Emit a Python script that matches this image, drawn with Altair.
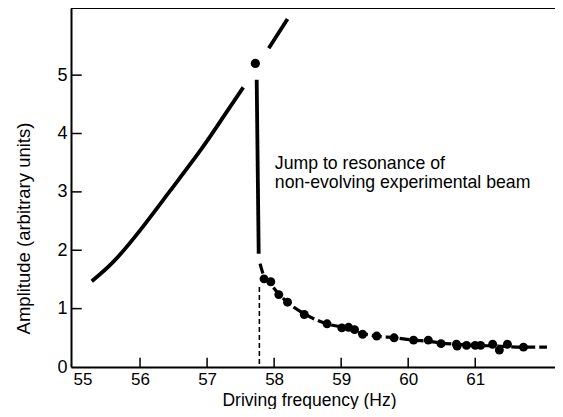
import altair as alt
import pandas as pd

# ---- data ----
lower_f = [55.28, 55.60, 56.00, 56.45, 56.90, 57.24, 57.54]
lower_A = [1.47, 1.80, 2.34, 3.02, 3.71, 4.28, 4.79]

upper_f = [57.92, 58.20]
upper_A = [5.46, 5.96]

jump_f = [57.74, 57.77]
jump_A = [4.92, 1.94]

peak_f = [57.72]
peak_A = [5.20]

dot_f = [57.85, 57.95, 58.07, 58.20, 58.45, 58.79, 59.01, 59.11, 59.20, 59.32,
         59.53, 59.79, 60.08, 60.30, 60.49, 60.72, 60.73, 60.87, 61.00, 61.08,
         61.26, 61.36, 61.48, 61.72]
dot_A = [1.51, 1.46, 1.24, 1.11, 0.90, 0.74, 0.67, 0.68, 0.64, 0.56,
         0.53, 0.50, 0.46, 0.46, 0.40, 0.39, 0.36, 0.37, 0.37, 0.37,
         0.39, 0.29, 0.39, 0.34]

fit_f = [57.79, 57.85, 57.95, 58.07, 58.20, 58.45, 58.79, 59.10, 59.30, 59.53,
         59.80, 60.08, 60.30, 60.50, 60.72, 61.00, 61.30, 61.72, 62.07]
fit_A = [1.77, 1.55, 1.42, 1.25, 1.11, 0.91, 0.74, 0.66, 0.58, 0.53,
         0.50, 0.46, 0.44, 0.41, 0.39, 0.37, 0.36, 0.34, 0.34]

vdash_f = [57.78, 57.78]
vdash_A = [1.37, 0.0]

x_ticks = [55, 56, 57, 58, 59, 60, 61]
y_ticks = [0, 1, 2, 3, 4, 5]

note_lines = ["Jump to resonance of", "non-evolving experimental beam"]
note_f = [58.01, 58.01]
note_A = [3.40, 3.06]

x_min, x_max = 54.97, 62.19
y_min, y_max = 0.0, 6.15

FONT = "Liberation Sans"
LFS = 17
TFS = 17.5
NFS = 17.7

xs = alt.Scale(domain=[x_min, x_max], nice=False, zero=False)
ys = alt.Scale(domain=[y_min, y_max], nice=False, zero=False)

xaxis = alt.Axis(values=x_ticks, format="d", title="Driving frequency (Hz)",
                 grid=False, ticks=False, tickSize=0, labelFlush=5,
                 domainColor="black", domainWidth=2,
                 labelFont=FONT, labelFontSize=LFS, labelColor="black", labelPadding=4,
                 titleFont=FONT, titleFontSize=TFS, titleFontWeight="normal", titleColor="black",
                 titleX=238, titleY=38, titleBaseline="alphabetic", titleAlign="center")
yaxis = alt.Axis(values=y_ticks, format="d", title="Amplitude (arbitrary units)",
                 grid=False, ticks=False, tickSize=0,
                 domainColor="black", domainWidth=2,
                 labelFont=FONT, labelFontSize=18, labelColor="black", labelPadding=4,
                 titleFont=FONT, titleFontSize=18.5, titleFontWeight="normal", titleColor="black",
                 titleX=-48, titleY=220, titleBaseline="middle", titleAlign="center", titleAngle=-90)

X = alt.X("f:Q", scale=xs, axis=xaxis)
Y = alt.Y("A:Q", scale=ys, axis=yaxis)

def df(f, a, **extra):
    d = pd.DataFrame({"f": f, "A": a})
    for k, v in extra.items():
        d[k] = v
    return d

lower = alt.Chart(df(lower_f, lower_A)).mark_line(
    color="black", strokeWidth=3.8, interpolate="natural", strokeCap="butt").encode(x=X, y=Y)
upper = alt.Chart(df(upper_f, upper_A)).mark_line(
    color="black", strokeWidth=3.8, strokeCap="butt").encode(x=X, y=Y)
jump = alt.Chart(df(jump_f, jump_A)).mark_line(
    color="black", strokeWidth=3.8, strokeCap="butt").encode(x=X, y=Y)
peak = alt.Chart(df(peak_f, peak_A)).mark_circle(
    color="black", opacity=1, size=85).encode(x=X, y=Y)
fit = alt.Chart(df(fit_f, fit_A)).mark_line(
    color="black", strokeWidth=3.2, strokeDash=[10, 4], interpolate="monotone",
    strokeCap="butt").encode(x=X, y=Y)
dots = alt.Chart(df(dot_f, dot_A)).mark_circle(
    color="black", opacity=1, size=80).encode(x=X, y=Y)
vdash = alt.Chart(df(vdash_f, vdash_A)).mark_line(
    color="black", strokeWidth=1.6, strokeDash=[5, 3]).encode(x=X, y=Y)

# inward tick marks drawn as short rules in data units
xt = df(x_ticks[1:], [0.0] * (len(x_ticks) - 1), A2=0.16)
xtick = alt.Chart(xt).mark_rule(color="black", strokeWidth=1.5).encode(
    x=X, y=Y, y2="A2:Q")
yt = df([x_min] * (len(y_ticks) - 1), y_ticks[1:], f2=x_min + 0.16)
ytick = alt.Chart(yt).mark_rule(color="black", strokeWidth=1.5).encode(
    x=X, x2="f2:Q", y=Y)

top = alt.Chart(pd.DataFrame({"A": [y_max]})).mark_rule(
    color="black", strokeWidth=2).encode(y=Y)

note = alt.Chart(pd.DataFrame({"f": note_f, "A": note_A, "t": note_lines})).mark_text(
    align="left", baseline="alphabetic", font=FONT, fontSize=NFS, color="black").encode(
    x=X, y=Y, text="t:N")

chart = alt.layer(xtick, ytick, top, lower, upper, jump, peak, vdash, fit, dots, note).properties(
    width=484, height=359,
    autosize=alt.AutoSizeParams(type="none"),
    padding={"left": 63, "top": 0, "right": 0, "bottom": 42},
).configure_view(stroke=None).configure(background="white")

chart.save("out.html", embed_options={"renderer": "svg", "actions": False})
